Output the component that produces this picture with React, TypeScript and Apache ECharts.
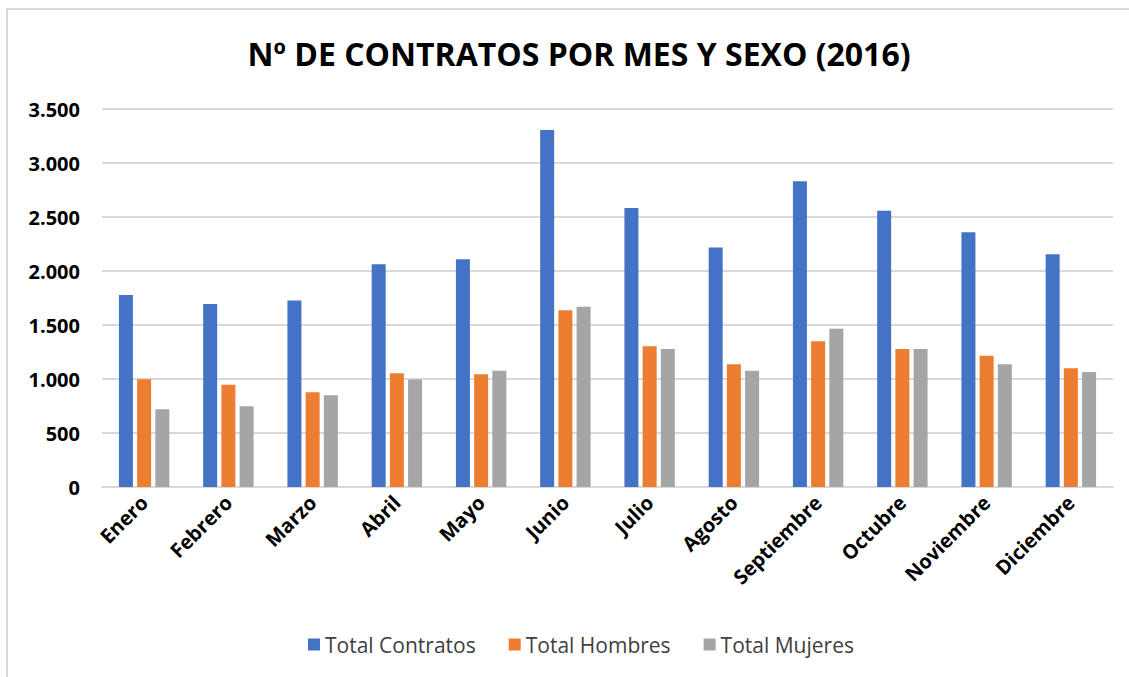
import React, { useEffect, useRef } from "react";
import * as echarts from "echarts";

const months = ["Enero", "Febrero", "Marzo", "Abril", "Mayo", "Junio", "Julio", "Agosto", "Septiembre", "Octubre", "Noviembre", "Diciembre"];
const totalContratos = [1778, 1694, 1728, 2062, 2108, 3305, 2583, 2217, 2830, 2558, 2358, 2154];
const totalHombres = [997, 947, 877, 1053, 1043, 1636, 1303, 1136, 1349, 1278, 1216, 1099];
const totalMujeres = [719, 747, 849, 995, 1077, 1670, 1278, 1077, 1466, 1278, 1136, 1065];

const fmt = (v: number) => v.toString().replace(/\B(?=(\d{3})+(?!\d))/g, ".");

export default function App() {
  const ref = useRef<HTMLDivElement>(null);
  useEffect(() => {
    const chart = echarts.init(ref.current!, null, { renderer: "svg" });
    const font = "'Open Sans', 'Liberation Sans', sans-serif";
    chart.setOption({
      animation: false,
      backgroundColor: "#ffffff",
      graphic: [
        {
          type: "rect",
          shape: { x: 7, y: 9, width: 1200, height: 800 },
          style: { fill: "none", stroke: "#d9d9d9", lineWidth: 2 },
          silent: true,
        },
      ],
      title: {
        text: "Nº DE CONTRATOS POR MES Y SEXO (2016)",
        left: 574,
        textAlign: "center",
        top: 32,
        textStyle: { fontFamily: font, fontWeight: "bold", fontSize: 32, color: "#000000" },
      },
      legend: {
        bottom: 17,
        left: 303,
        itemWidth: 12,
        itemHeight: 12,
        itemGap: 33,
        icon: "rect",
        textStyle: { fontFamily: font, fontSize: 21, color: "#404040" },
        data: ["Total Contratos", "Total Hombres", "Total Mujeres"],
      },
      grid: { left: 102, right: 16, top: 109, bottom: 190, containLabel: false },
      xAxis: {
        type: "category",
        data: months,
        axisTick: { show: false },
        axisLine: { lineStyle: { color: "#d9d9d9", width: 2 } },
        axisLabel: {
          rotate: 45,
          margin: 12,
          fontFamily: font,
          fontWeight: "bold",
          fontSize: 20,
          color: "#000000",
          interval: 0,
        },
      },
      yAxis: {
        type: "value",
        min: 0,
        max: 3500,
        interval: 500,
        axisLine: { show: false },
        axisTick: { show: false },
        splitLine: { lineStyle: { color: "#d9d9d9", width: 2 } },
        axisLabel: {
          margin: 22,
          fontFamily: font,
          fontWeight: "bold",
          fontSize: 20,
          color: "#000000",
          formatter: (v: number) => fmt(v),
        },
      },
      series: [
        { name: "Total Contratos", type: "bar", data: totalContratos, barWidth: 14, barGap: "30%", itemStyle: { color: "#4472c4" } },
        { name: "Total Hombres", type: "bar", data: totalHombres, barWidth: 14, barGap: "30%", itemStyle: { color: "#ed7d31" } },
        { name: "Total Mujeres", type: "bar", data: totalMujeres, barWidth: 14, barGap: "30%", itemStyle: { color: "#a5a5a5" } },
      ],
    });
    return () => chart.dispose();
  }, []);
  return <div ref={ref} style={{ position: "fixed", left: 0, top: 0, width: 1129, height: 677 }} />;
}
